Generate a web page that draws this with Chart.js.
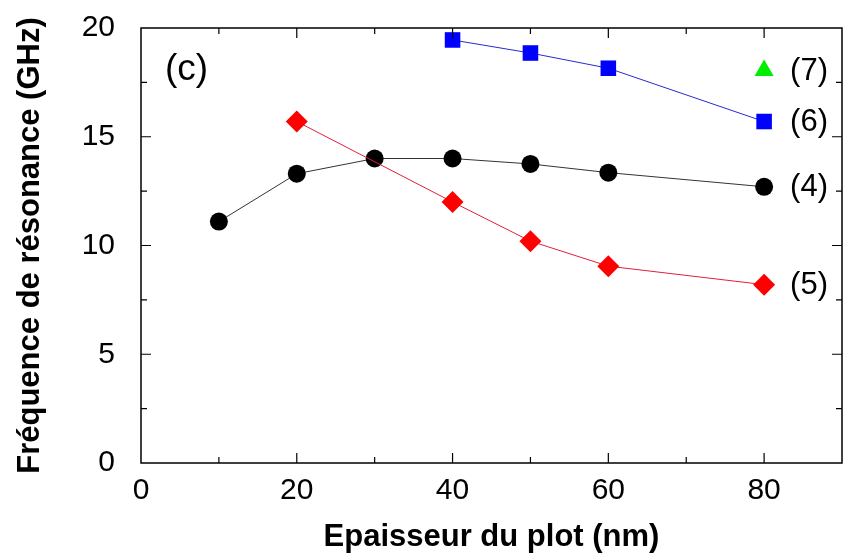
<!DOCTYPE html>
<html>
<head>
<meta charset="utf-8">
<script src="https://cdn.jsdelivr.net/npm/chart.js@4"></script>
<style>
  body { margin: 0; background: #fff; }
  #wrap { width: 853px; height: 560px; }
</style>
</head>
<body>
<div id="wrap"><canvas id="chart" width="853" height="560"></canvas></div>
<script>
// épaisseur (nm) et fréquence (GHz)
const thickness4 = [10, 20, 30, 40, 50, 60, 80];
const freq4 = [11.1, 13.3, 14.0, 14.0, 13.75, 13.35, 12.7];
const thickness5 = [20, 40, 50, 60, 80];
const freq5 = [15.7, 12.0, 10.2, 9.05, 8.2];
const thickness6 = [40, 50, 60, 80];
const freq6 = [19.45, 18.85, 18.15, 15.7];
const thickness7 = [80];
const freq7 = [18.05];
const seriesLabels = ["(5)", "(4)", "(6)", "(7)"];
const xTicks = [0, 20, 40, 60, 80];
const yTicks = [0, 5, 10, 15, 20];
const panelLabel = "(c)";

const FONT = "'Liberation Sans', Arial, Helvetica, sans-serif";

function points(xs, ys) {
    return xs.map(function (x, i) { return { x: x, y: ys[i] }; });
}

// cadre, graduations vers l'intérieur et étiquettes des courbes
const framePlugin = {
    id: "frame",
    afterDraw: function (chart) {
        const ctx = chart.ctx;
        const area = chart.chartArea;
        const xs = chart.scales.x;
        const ys = chart.scales.y;
        ctx.save();
        ctx.strokeStyle = "#000";
        ctx.lineWidth = 1.5;
        ctx.strokeRect(area.left, area.top, area.right - area.left, area.bottom - area.top);

        ctx.lineWidth = 1.2;
        ctx.beginPath();
        for (let v = 10; v < xs.max; v += 10) {
            const px = xs.getPixelForValue(v);
            const len = v % 20 === 0 ? 10 : 6;
            ctx.moveTo(px, area.bottom);
            ctx.lineTo(px, area.bottom - len);
            ctx.moveTo(px, area.top);
            ctx.lineTo(px, area.top + len);
        }
        for (let v = 2.5; v < ys.max; v += 2.5) {
            const py = ys.getPixelForValue(v);
            const len = v % 5 === 0 ? 10 : 6;
            ctx.moveTo(area.left, py);
            ctx.lineTo(area.left + len, py);
            ctx.moveTo(area.right, py);
            ctx.lineTo(area.right - len, py);
        }
        ctx.stroke();

        ctx.fillStyle = "#000";
        ctx.textBaseline = "middle";
        ctx.textAlign = "left";
        ctx.font = "31px " + FONT;
        chart.data.datasets.forEach(function (ds, i) {
            const last = ds.data[ds.data.length - 1];
            const px = xs.getPixelForValue(last.x);
            const py = ys.getPixelForValue(last.y);
            ctx.fillText(seriesLabels[i], px + 26, py + 1);
        });

        ctx.font = "37px " + FONT;
        ctx.fillText(panelLabel, area.left + 24, area.top + 42);
        ctx.restore();
    }
};

new Chart(document.getElementById("chart"), {
    type: "scatter",
    data: {
        datasets: [
            {
                data: points(thickness5, freq5),
                showLine: true,
                borderColor: "#e0203a",
                borderWidth: 1,
                backgroundColor: "#ff0000",
                pointStyle: "rectRot",
                pointRadius: 11,
                pointBorderWidth: 0
            },
            {
                data: points(thickness4, freq4),
                showLine: true,
                borderColor: "#333333",
                borderWidth: 1,
                backgroundColor: "#000000",
                pointStyle: "circle",
                pointRadius: 9,
                pointBorderWidth: 0
            },
            {
                data: points(thickness6, freq6),
                showLine: true,
                borderColor: "#2a2ad0",
                borderWidth: 1,
                backgroundColor: "#0000ff",
                pointStyle: "rect",
                pointRadius: 11,
                pointBorderWidth: 0
            },
            {
                data: points(thickness7, freq7),
                showLine: false,
                backgroundColor: "#00ee00",
                borderColor: "#00ee00",
                pointStyle: "triangle",
                pointRadius: 11,
                pointBorderWidth: 0
            }
        ]
    },
    options: {
        responsive: false,
        animation: false,
        layout: { padding: { top: 28, right: 5, left: 0, bottom: 0 } },
        plugins: {
            legend: { display: false },
            tooltip: { enabled: false }
        },
        scales: {
            x: {
                type: "linear",
                min: 0,
                max: 90,
                grid: { display: false },
                border: { display: false },
                afterBuildTicks: function (scale) {
                    scale.ticks = xTicks.map(function (v) { return { value: v }; });
                },
                ticks: {
                    padding: 2,
                    color: "#000",
                    maxRotation: 0,
                    font: { family: FONT, size: 30 }
                },
                title: {
                    display: true,
                    text: "Epaisseur du plot (nm)",
                    color: "#000",
                    padding: { top: 0, bottom: 4 },
                    font: { family: FONT, size: 31, weight: "bold" }
                },
                afterFit: function (scale) {
                    scale.height = 97;
                    scale.paddingLeft = 0;
                    scale.paddingRight = 0;
                }
            },
            y: {
                type: "linear",
                min: 0,
                max: 20,
                grid: { display: false },
                border: { display: false },
                afterBuildTicks: function (scale) {
                    scale.ticks = yTicks.map(function (v) { return { value: v }; });
                },
                ticks: {
                    padding: 18,
                    color: "#000",
                    font: { family: FONT, size: 30 }
                },
                title: {
                    display: true,
                    text: "Fréquence de résonance (GHz)",
                    color: "#000",
                    padding: { top: 12, bottom: 0 },
                    font: { family: FONT, size: 31, weight: "bold" }
                },
                afterFit: function (scale) {
                    scale.width = 141;
                    scale.paddingTop = 0;
                    scale.paddingBottom = 0;
                }
            }
        }
    },
    plugins: [framePlugin]
});
</script>
</body>
</html>
